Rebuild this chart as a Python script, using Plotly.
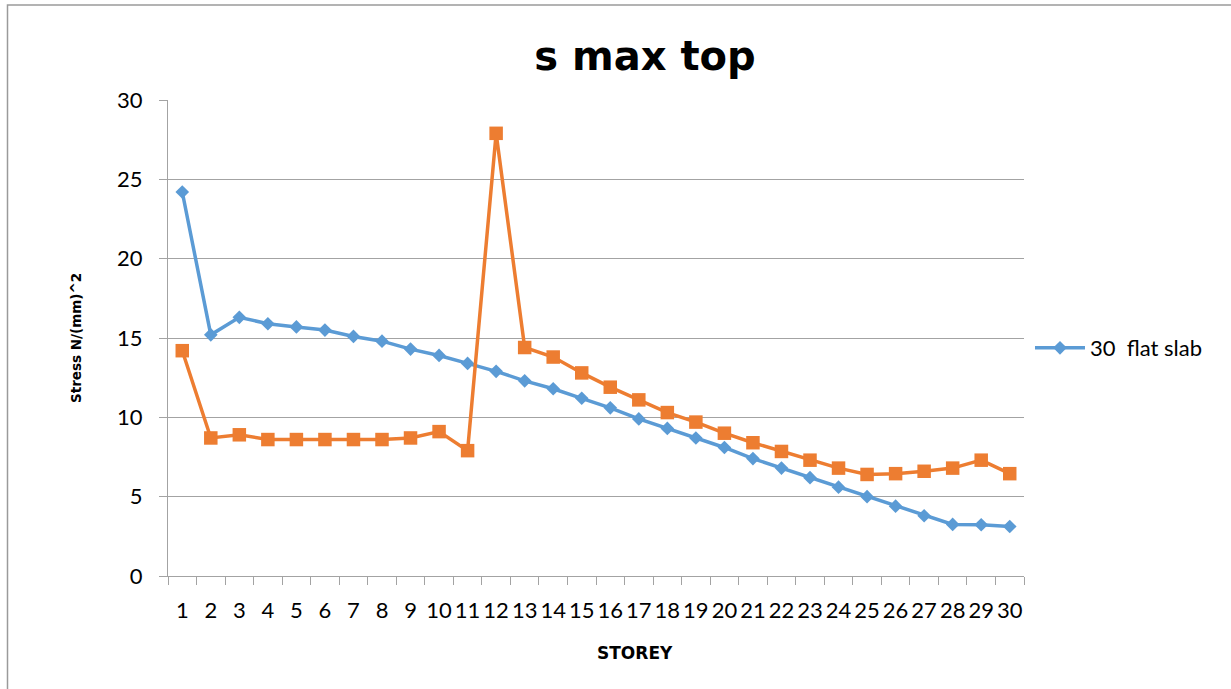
import plotly.graph_objects as go

# Storey numbers and maximum top-face stress (N/mm^2) for the two slab series
storeys = list(range(1, 31))
flat_slab_30 = [24.2, 15.2, 16.3, 15.9, 15.7, 15.5, 15.1, 14.8, 14.3, 13.9,
                13.4, 12.9, 12.3, 11.8, 11.2, 10.6, 9.9, 9.3, 8.7, 8.1,
                7.4, 6.8, 6.2, 5.6, 5.0, 4.4, 3.8, 3.25, 3.23, 3.12]
second_series = [14.2, 8.7, 8.9, 8.6, 8.6, 8.6, 8.6, 8.6, 8.7, 9.1,
                 7.9, 27.9, 14.4, 13.8, 12.8, 11.9, 11.1, 10.3, 9.7, 9.0,
                 8.4, 7.85, 7.3, 6.8, 6.4, 6.45, 6.6, 6.8, 7.3, 6.45]
y_ticks = [0, 5, 10, 15, 20, 25, 30]

BLUE = "#5B9BD5"
ORANGE = "#ED7D31"
GRID = "#A3A3A3"
TICK_FONT = dict(family="Lato, Carlito, Calibri, sans-serif", size=22, color="#000000")

fig = go.Figure()

fig.add_trace(go.Scatter(
    x=storeys, y=flat_slab_30, mode="lines+markers", name="30\u00a0 flat slab",
    line=dict(color=BLUE, width=3.5),
    marker=dict(symbol="diamond", size=10.5, color=BLUE),
))
fig.add_trace(go.Scatter(
    x=storeys, y=second_series, mode="lines+markers", showlegend=False,
    line=dict(color=ORANGE, width=3.5),
    marker=dict(symbol="square", size=13.5, color=ORANGE),
))

fig.update_layout(
    width=1231, height=689,
    margin=dict(l=168, r=207, t=100, b=113),
    paper_bgcolor="white", plot_bgcolor="white",
    title=dict(text="s max top", x=0.524, xanchor="center", xref="container",
               y=0.918, yanchor="middle", yref="container",
               font=dict(family="DejaVu Sans, Arial, sans-serif", size=40,
                         color="#000000", weight="bold")),
    legend=dict(x=1.007, y=0.479, xanchor="left", yanchor="middle",
                font=TICK_FONT, bgcolor="rgba(0,0,0,0)", itemwidth=50),
    showlegend=True,
)

fig.update_xaxes(
    range=[0.5, 30.5], tickmode="array", tickvals=storeys,
    ticktext=[str(s) for s in storeys], tickangle=0,
    ticks="", tickfont=TICK_FONT, ticklabelstandoff=14,
    showgrid=False, zeroline=False,
    showline=True, linecolor=GRID, linewidth=1.3,
    minor=dict(tick0=0.5, dtick=1, ticks="outside", ticklen=8,
               tickcolor=GRID, tickwidth=1.3),
)
fig.update_yaxes(
    range=[0, 30], tickmode="array", tickvals=y_ticks,
    ticks="outside", ticklen=8, tickcolor=GRID, tickwidth=1.3,
    tickfont=TICK_FONT, ticklabelstandoff=12,
    showgrid=True, gridcolor=GRID, gridwidth=1.3, zeroline=False,
    showline=True, linecolor=GRID, linewidth=1.3,
)

# Axis titles
fig.add_annotation(text="Stress N/(mm)^2", xref="paper", yref="paper",
                   x=-0.1075, y=0.5, xanchor="center", yanchor="middle",
                   textangle=-90, showarrow=False,
                   font=dict(family="DejaVu Sans, Arial, sans-serif", size=13.5,
                             color="#000000", weight="bold"))
fig.add_annotation(text="STOREY", xref="paper", yref="paper",
                   x=0.5456, y=-0.1618, xanchor="center", yanchor="middle",
                   showarrow=False,
                   font=dict(family="DejaVu Sans, Arial, sans-serif", size=17,
                             color="#000000", weight="bold"))

# Chart-area border
fig.add_shape(type="rect", xref="paper", yref="paper",
              x0=(7.5 - 168) / 856, x1=(1240 - 168) / 856,
              y0=(576 - 700) / 476, y1=(576 - 5) / 476,
              line=dict(color="#9A9A9A", width=1.5), layer="below")

fig.write_html("out.html")
